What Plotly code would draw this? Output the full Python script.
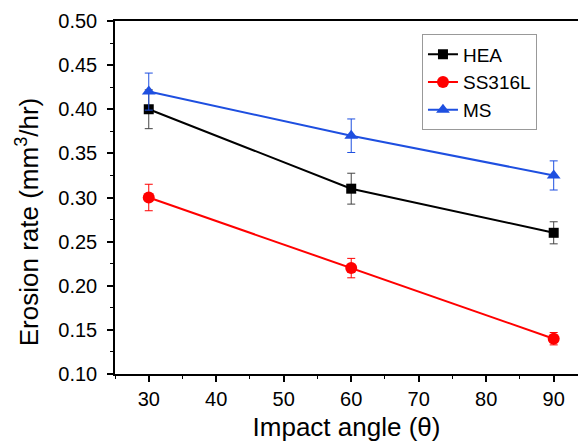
import plotly.graph_objects as go

angles = [30, 60, 90]
hea = [0.40, 0.31, 0.26]
hea_err = [0.022, 0.0175, 0.0125]
ss = [0.30, 0.22, 0.14]
ss_err = [0.015, 0.011, 0.007]
ms = [0.42, 0.37, 0.325]
ms_err = [0.021, 0.019, 0.0165]

x_title = "Impact angle (θ)"
y_title = "Erosion rate (mm<sup>3</sup>/hr)"

FONT = "Liberation Sans, Arial, sans-serif"

fig = go.Figure()
fig.add_trace(go.Scatter(
    x=angles, y=hea, name="HEA", mode="lines+markers",
    line=dict(color="black", width=2),
    marker=dict(symbol="square", size=10, color="black"),
    error_y=dict(type="data", array=hea_err, color="#444444", thickness=1, width=4),
))
fig.add_trace(go.Scatter(
    x=angles, y=ss, name="SS316L", mode="lines+markers",
    line=dict(color="#ff0000", width=2),
    marker=dict(symbol="circle", size=12, color="#ff0000"),
    error_y=dict(type="data", array=ss_err, color="#ff0000", thickness=1, width=4),
))
fig.add_trace(go.Scatter(
    x=angles, y=ms, name="MS", mode="lines+markers",
    line=dict(color="#1e4fe0", width=2),
    marker=dict(symbol="triangle-up", size=12, color="#1e4fe0"),
    error_y=dict(type="data", array=ms_err, color="#1e4fe0", thickness=1, width=4),
))

fig.update_layout(
    width=578, height=442,
    margin=dict(l=115, r=0, t=21, b=68),
    paper_bgcolor="white", plot_bgcolor="white",
    font=dict(family=FONT, size=20, color="black"),
    legend=dict(
        x=0.663, y=0.962, xanchor="left", yanchor="top",
        bgcolor="white", bordercolor="#999999", borderwidth=1,
        font=dict(size=19), tracegroupgap=0, itemwidth=30,
    ),
    showlegend=True,
)
fig.update_xaxes(
    range=[25, 93.6], tick0=30, dtick=10,
    ticks="outside", ticklen=6, tickwidth=1.5, tickcolor="black",
    minor=dict(ticks="outside", ticklen=3, dtick=5, tick0=25, tickcolor="black", tickwidth=1),
    showline=True, linecolor="black", linewidth=1.5, mirror=True,
    showgrid=False, zeroline=False,
    tickfont=dict(size=20),
    title=dict(text=x_title, font=dict(size=26), standoff=10),
)
fig.update_yaxes(
    range=[0.10, 0.50], tick0=0.10, dtick=0.05, tickformat=".2f",
    ticks="outside", ticklen=6, tickwidth=1.5, tickcolor="black",
    minor=dict(ticks="outside", ticklen=3, dtick=0.025, tick0=0.10, tickcolor="black", tickwidth=1),
    showline=True, linecolor="black", linewidth=1.5,
    showgrid=False, zeroline=False,
    tickfont=dict(size=20), ticklabelstandoff=6,
)
fig.add_annotation(
    text=y_title, textangle=-90, showarrow=False,
    xref="paper", yref="paper", x=-0.19, y=0.43,
    xanchor="center", yanchor="middle",
    font=dict(size=26, family=FONT, color="black"),
)

fig.write_html("out.html")
